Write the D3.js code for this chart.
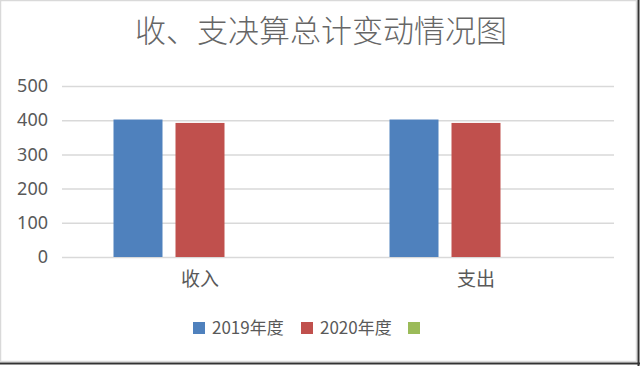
<!DOCTYPE html>
<html><head><meta charset="utf-8">
<script src="https://cdn.jsdelivr.net/npm/d3@7"></script>
<style>
html,body{margin:0;padding:0;background:#fff;}
svg{display:block;font-family:"Noto Sans CJK SC","Noto Sans",sans-serif;}
</style></head>
<body>
<svg id="c" width="640" height="366"></svg>
<script>
const title = "收、支决算总计变动情况图";
const categories = ["收入", "支出"];
const seriesNames = ["2019年度", "2020年度", ""];
const values2019 = [402, 402];
const values2020 = [392, 392];
const values3 = [null, null];
const yTicks = [0, 100, 200, 300, 400, 500];
const colors = ["#4F81BD", "#C0504D", "#9BBB59"];

const series = [values2019, values2020, values3];
const svg = d3.select("#c");

// frame
svg.append("rect").attr("x",0).attr("y",0).attr("width",640).attr("height",366).attr("fill","#fff");
svg.append("rect").attr("x",0.5).attr("y",0.5).attr("width",636).attr("height",361)
  .attr("fill","none").attr("stroke","#d9d9d9").attr("stroke-width",1.5);
svg.append("line").attr("x1",638.5).attr("x2",638.5).attr("y1",0).attr("y2",366).attr("stroke","#333").attr("stroke-width",2);
svg.append("line").attr("x1",0).attr("x2",640).attr("y1",363.5).attr("y2",363.5).attr("stroke","#333").attr("stroke-width",2);

const mLeft = 62, mRight = 614, mTop = 86, mBottom = 257;
const y = d3.scaleLinear().domain([0, 500]).range([mBottom, mTop]);
const x0 = d3.scaleBand().domain(categories).range([mLeft, mRight]).paddingInner(0).paddingOuter(0);
const bw = 49, step = 62;
const x1 = d3.scaleBand().domain(d3.range(3)).range([0, step*3]).padding(0);

// title
svg.append("text").attr("x", 321).attr("y", 42).attr("text-anchor","middle")
  .attr("font-size", 31).attr("font-weight", 300).attr("fill", "#666").text(title);

// gridlines
const yAxis = d3.axisLeft(y).tickValues(yTicks).tickSize(-(mRight-mLeft)).tickPadding(14);
const g = svg.append("g").attr("transform", `translate(${mLeft},0)`).call(yAxis);
g.select(".domain").remove();
g.selectAll(".tick line").attr("stroke","#d9d9d9").attr("stroke-width",1.5);
g.selectAll(".tick text").attr("font-size",18).attr("fill","#595959")
  .attr("font-family","'Noto Sans','Noto Sans CJK SC',sans-serif");

// bars
categories.forEach((c, ci) => {
  const groupW = step*2 + bw;
  const gx = x0(c) + (x0.bandwidth() - groupW)/2;
  series.forEach((s, si) => {
    const v = s[ci];
    if (v == null) return;
    svg.append("rect")
      .attr("x", gx + x1(si))
      .attr("y", y(v))
      .attr("width", bw)
      .attr("height", y(0) - y(v))
      .attr("fill", colors[si]);
  });
});

// category axis labels
const xAxis = d3.axisBottom(x0).tickSize(0).tickPadding(16);
const xg = svg.append("g").attr("transform", `translate(0,${mBottom})`).call(xAxis);
xg.select(".domain").remove();
xg.selectAll(".tick text").attr("font-size",19).attr("fill","#595959")
  .attr("font-family","'Noto Sans CJK SC',sans-serif");

// legend
const legendX = [193, 301, 408];
seriesNames.forEach((n, i) => {
  svg.append("rect").attr("x", legendX[i]).attr("y", 322).attr("width", 12).attr("height", 12).attr("fill", colors[i]);
  if (n) svg.append("text").attr("x", legendX[i] + 19).attr("y", 334).attr("font-size", 17)
    .attr("fill", "#595959").text(n);
});
</script>
</body></html>
